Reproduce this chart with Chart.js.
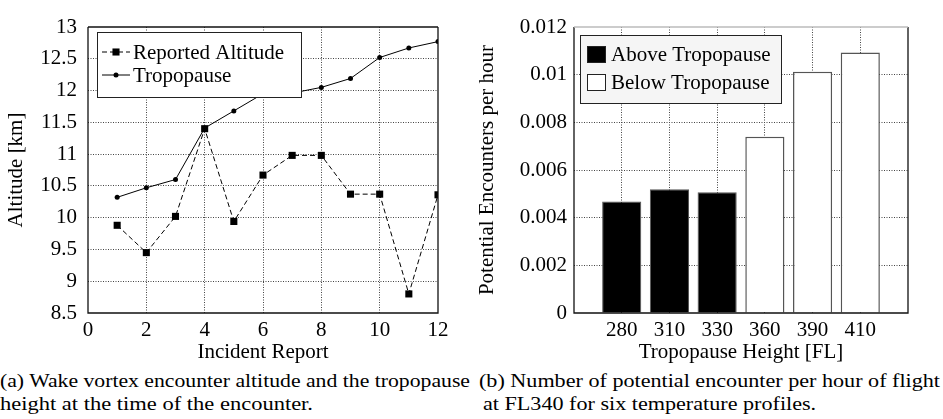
<!DOCTYPE html>
<html lang="en">
<head>
    <meta charset="UTF-8">
    <title>Wake vortex encounters and tropopause</title>
    <script src="https://cdn.jsdelivr.net/npm/chart.js"></script>
    <style>
        body {
            margin: 0;
            background: #fff;
            font-family: "Liberation Serif", serif;
        }
        #page {
            position: relative;
            width: 943px;
            height: 419px;
            overflow: hidden;
        }
        .plot {
            position: absolute;
            top: 0;
        }
        .cap {
            position: absolute;
            font-size: 18.5px;
            line-height: 22px;
            white-space: nowrap;
            color: #000;
            transform-origin: 0 0;
        }
    </style>
</head>
<body>
<div id="page">
    <canvas id="altChart" class="plot" width="470" height="366" style="left:0"></canvas>
    <canvas id="rateChart" class="plot" width="473" height="366" style="left:470px"></canvas>

    <div class="cap" id="capA1" style="left:0; top:370px">(a) Wake vortex encounter altitude and the tropopause</div>
    <div class="cap" id="capA2" style="left:0; top:393px">height at the time of the encounter.</div>
    <div class="cap" id="capB1" style="left:479px; top:370px">(b) Number of potential encounter per hour of flight</div>
    <div class="cap" id="capB2" style="left:483px; top:393px">at FL340 for six temperature profiles.</div>
</div>

<script>
    // left plot: incident reports
    const incidents = [1, 2, 3, 4, 5, 6, 7, 8, 9, 10, 11, 12];
    const reportedAltitude = [9.88, 9.45, 10.02, 11.40, 9.94, 10.67, 10.98, 10.98, 10.37, 10.37, 8.80, 10.36];
    const tropopause = [10.32, 10.47, 10.60, 11.41, 11.68, 11.95, 11.96, 12.05, 12.19, 12.52, 12.67, 12.77];

    // right plot: encounters per hour
    const tropoHeights = ['280', '310', '330', '360', '390', '410'];
    const aboveTropo = [0.00468, 0.00519, 0.00507];
    const belowTropo = [0.00740, 0.01012, 0.01093];

    const SERIF = '"Liberation Serif", "Times New Roman", serif';
    const FONT_PX = 21;
    const gridColor = '#444';
    const clear = 'rgba(0,0,0,0)';
    const dotted = [1, 1.5];

    // stretch a caption line sideways so it fills its width like the printed figure
    function fitLine(id, width) {
        const el = document.getElementById(id);
        const k = width / el.getBoundingClientRect().width;
        el.style.transform = 'scaleX(' + k + ')';
        return k;
    }

    // black frame around the plot area
    const framePlugin = {
        id: 'frame',
        afterDatasetsDraw(chart, args, opts) {
            const a = chart.chartArea;
            const c = chart.ctx;
            c.save();
            c.lineWidth = 1.3;
            c.strokeStyle = '#111';
            c.beginPath();
            c.moveTo(a.left, a.top);
            c.lineTo(a.left, a.bottom);
            c.lineTo(a.right, a.bottom);
            c.lineTo(a.right, a.top);
            c.stroke();
            c.strokeStyle = opts.topColor || '#111';
            c.beginPath();
            c.moveTo(a.left, a.top);
            c.lineTo(a.right, a.top);
            c.stroke();
            c.restore();
        }
    };

    // gnuplot style legend drawn inside the plot
    const boxLegend = {
        id: 'boxLegend',
        afterDraw(chart, args, o) {
            const a = chart.chartArea;
            const c = chart.ctx;
            const x0 = a.left + o.dx, y0 = a.top + o.dy;
            c.save();
            c.fillStyle = o.fill;
            c.fillRect(x0, y0, o.w, o.h);
            c.lineWidth = 1;
            c.strokeStyle = '#222';
            c.strokeRect(x0 + 0.5, y0 + 0.5, o.w, o.h);
            c.font = FONT_PX + 'px ' + SERIF;
            c.textBaseline = 'middle';
            chart.data.datasets.forEach((ds, i) => {
                const y = y0 + o.row0 + i * o.rowGap;
                if (o.kind === 'line') {
                    c.strokeStyle = '#000';
                    c.lineWidth = 1;
                    c.setLineDash(ds.borderDash || []);
                    c.beginPath();
                    c.moveTo(x0 + 5, y);
                    c.lineTo(x0 + 33, y);
                    c.stroke();
                    c.setLineDash([]);
                    c.fillStyle = '#000';
                    Chart.helpers.drawPoint(c, {
                        pointStyle: ds.pointStyle,
                        radius: ds.pointRadius,
                        borderWidth: 0
                    }, x0 + 19, y);
                    c.fillText(ds.label, x0 + 36, y + 1);
                } else {
                    c.fillStyle = ds.backgroundColor;
                    c.fillRect(x0 + 7, y - 8, 18, 16);
                    c.strokeStyle = '#222';
                    c.lineWidth = 1;
                    c.strokeRect(x0 + 7.5, y - 7.5, 18, 16);
                    c.fillStyle = '#000';
                    c.fillText(ds.label, x0 + 31, y + 1);
                }
            });
            c.restore();
        }
    };

    function drawCharts() {
        Chart.defaults.font.family = SERIF;
        Chart.defaults.font.size = FONT_PX;
        Chart.defaults.color = '#000';

        new Chart(document.getElementById('altChart'), {
            type: 'line',
            data: {
                datasets: [
                    {
                        label: 'Reported Altitude',
                        data: incidents.map((n, i) => ({ x: n, y: reportedAltitude[i] })),
                        borderColor: '#000',
                        borderWidth: 1,
                        borderDash: [5, 3],
                        pointStyle: 'rect',
                        pointRadius: 5,
                        pointBackgroundColor: '#000',
                        pointBorderColor: '#000',
                        pointBorderWidth: 0,
                        clip: 0
                    },
                    {
                        label: 'Tropopause',
                        data: incidents.map((n, i) => ({ x: n, y: tropopause[i] })),
                        borderColor: '#000',
                        borderWidth: 1,
                        pointStyle: 'circle',
                        pointRadius: 2.5,
                        pointBackgroundColor: '#000',
                        pointBorderColor: '#000',
                        pointBorderWidth: 0,
                        clip: 0
                    }
                ]
            },
            options: {
                responsive: false,
                animation: false,
                layout: { padding: { top: 27, right: 32, left: 0, bottom: 0 } },
                plugins: {
                    legend: { display: false },
                    tooltip: { enabled: false },
                    boxLegend: { kind: 'line', dx: 9, dy: 5, w: 204, h: 65, row0: 20, rowGap: 23, fill: '#fff' },
                    frame: {}
                },
                scales: {
                    x: {
                        type: 'linear',
                        min: 0,
                        max: 12,
                        ticks: { stepSize: 2, padding: 5 },
                        grid: {
                            color: c => (!c.tick || c.tick.value === 0 || c.tick.value === 12) ? clear : gridColor,
                            drawTicks: false
                        },
                        border: { display: false, dash: dotted },
                        title: { display: true, text: 'Incident Report', padding: { top: 0, bottom: 1 } },
                        afterFit: s => { s.height = 53; }
                    },
                    y: {
                        min: 8.5,
                        max: 13,
                        ticks: { stepSize: 0.5, padding: 11, callback: v => String(v) },
                        grid: {
                            color: c => (!c.tick || c.tick.value === 8.5 || c.tick.value === 13) ? clear : gridColor,
                            drawTicks: false
                        },
                        border: { display: false, dash: dotted },
                        title: { display: true, text: 'Altitude [km]', padding: { top: 4, bottom: 0 } },
                        afterFit: s => { s.width = 88; }
                    }
                }
            },
            plugins: [boxLegend, framePlugin]
        });

        const xMax = tropoHeights.length + 1;

        new Chart(document.getElementById('rateChart'), {
            type: 'bar',
            data: {
                datasets: [
                    {
                        label: 'Above Tropopause',
                        data: aboveTropo.map((v, i) => ({ x: i + 1, y: v })),
                        backgroundColor: '#000',
                        borderColor: '#555',
                        borderWidth: 1
                    },
                    {
                        label: 'Below Tropopause',
                        data: belowTropo.map((v, i) => ({ x: i + 1 + aboveTropo.length, y: v })),
                        backgroundColor: '#fff',
                        borderColor: '#555',
                        borderWidth: 1.5
                    }
                ]
            },
            options: {
                responsive: false,
                animation: false,
                grouped: false,
                barPercentage: 0.82,
                categoryPercentage: 1,
                layout: { padding: { top: 27, right: 35, left: 0, bottom: 0 } },
                plugins: {
                    legend: { display: false },
                    tooltip: { enabled: false },
                    boxLegend: { kind: 'box', dx: 6, dy: 8, w: 201, h: 68, row0: 19, rowGap: 28, fill: '#f5f5f5' },
                    frame: { topColor: '#bbb' }
                },
                scales: {
                    x: {
                        type: 'linear',
                        offset: false,
                        min: 0,
                        max: xMax,
                        ticks: {
                            stepSize: 1,
                            padding: 5,
                            autoSkip: false,
                            callback: v => tropoHeights[v - 1] || ''
                        },
                        grid: {
                            offset: false,
                            color: c => (!c.tick || c.tick.value === 0 || c.tick.value === xMax) ? clear : gridColor,
                            drawTicks: false
                        },
                        border: { display: false, dash: dotted },
                        title: { display: true, text: 'Tropopause Height [FL]', padding: { top: 0, bottom: 1 } },
                        afterFit: s => { s.height = 53; }
                    },
                    y: {
                        min: 0,
                        max: 0.012,
                        ticks: { stepSize: 0.002, padding: 7, callback: v => String(+v.toFixed(3)) },
                        grid: {
                            color: c => (!c.tick || c.tick.value === 0 || c.tick.value > 0.0119) ? clear : gridColor,
                            drawTicks: false
                        },
                        border: { display: false, dash: dotted },
                        title: { display: true, text: 'Potential Encounters per hour', padding: { top: 5, bottom: 0 } },
                        afterFit: s => { s.width = 104; }
                    }
                }
            },
            plugins: [boxLegend, framePlugin]
        });
    }

    document.fonts.load(FONT_PX + 'px "Liberation Serif"').then(() => {
        fitLine('capA1', 470);
        fitLine('capA2', 313);
        const kb = fitLine('capB1', 461);
        document.getElementById('capB2').style.transform = 'scaleX(' + kb + ')';
        drawCharts();
    });
</script>
</body>
</html>
